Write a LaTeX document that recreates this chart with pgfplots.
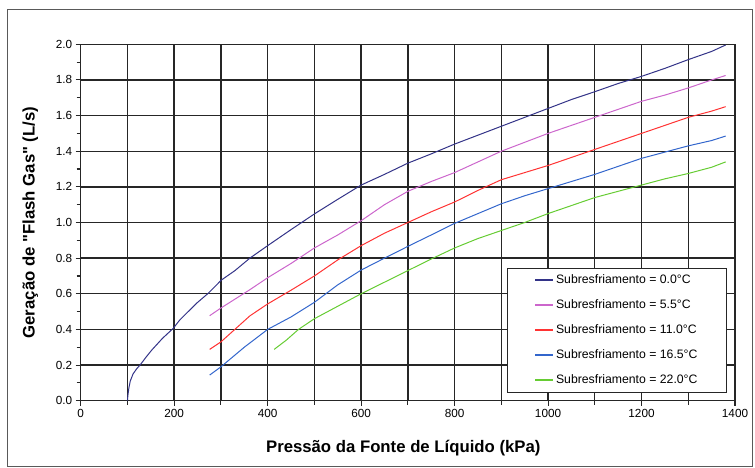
\documentclass[border=0pt]{standalone}
\usepackage{pgfplots}
\pgfplotsset{compat=1.18}
\usepackage{fontspec}
\setmainfont{Liberation Sans}[Ligatures=TeXOff]
\definecolor{c0}{RGB}{51,51,136}
\definecolor{c1}{RGB}{204,102,204}
\definecolor{c2}{RGB}{255,51,51}
\definecolor{c3}{RGB}{51,102,204}
\definecolor{c4}{RGB}{102,204,51}
\begin{document}
\begin{tikzpicture}
\path[use as bounding box] (0bp,0bp) rectangle (755bp,468bp);
\draw[black!65,line width=1.3bp] (7.3bp,1.6bp) rectangle (752.6bp,458.7bp);
\begin{axis}[
  at={(80.7bp,67.3bp)}, anchor=south west,
  scale only axis, width=654.3bp, height=356.4bp,
  xmin=0, xmax=1400, ymin=0, ymax=2,
  xtick={0,200,400,600,800,1000,1200,1400},
  minor xtick={100,300,500,700,900,1100,1300},
  ytick={0,0.2,0.4,0.6,0.8,1.0,1.2,1.4,1.6,1.8,2.0},
  minor ytick={0.1,0.3,0.5,0.7,0.9,1.1,1.3,1.5,1.7,1.9},
  xmajorgrids, xminorgrids, ymajorgrids,
  grid style={black!85,line width=1.4bp},
  minor grid style={black!85,line width=1.4bp},
  axis line style={black!85,line width=1.4bp},
  tick align=outside, tick pos=left,
  major tick length=5bp, minor tick length=4bp,
  every tick/.style={black!85,line width=1.1bp},
  tick label style={font=\fontsize{11.8}{13}\selectfont},
  /pgf/number format/assume math mode=true,
  /pgf/number format/1000 sep={},
  y tick label style={/pgf/number format/fixed,/pgf/number format/fixed zerofill,/pgf/number format/precision=1},
  xlabel={Pressão da Fonte de Líquido (kPa)},
  ylabel={Geração de "Flash Gas" (L/s)},
  xlabel style={font=\bfseries\fontsize{16.8}{20}\selectfont, at={(axis description cs:0.493,-0.1333)}, anchor=center},
  ylabel style={font=\bfseries\fontsize{16.8}{20}\selectfont, at={(axis description cs:-0.077,0.5)}, anchor=center},
  legend style={at={(axis description cs:0.9878,0.0224)}, anchor=south east, draw=black!85, line width=1bp, fill=white,
    font=\fontsize{12.3}{14}\selectfont, inner xsep=27bp, inner ysep=6bp, row sep=13bp,
    nodes={inner xsep=2bp, inner ysep=0bp, text height=9bp, text depth=3bp, anchor=west}},
  legend cell align=left,
  legend image code/.code={\draw[#1,line width=1.5bp] (0bp,0bp) -- (18bp,0bp);},
]
\addplot[c0, line width=1bp] coordinates {
(100,0) (101,0.03) (103,0.07) (106,0.11) (112,0.15) (120,0.18) (127,0.2) (140,0.245) (152,0.284) (175,0.35) (198,0.406) (212,0.453) (248,0.547) (273,0.603) (301,0.677) (330,0.73) (362,0.80) (400,0.87) (450,0.96) (500,1.048) (550,1.13) (600,1.21) (650,1.27) (700,1.333) (750,1.385) (800,1.44) (850,1.49) (900,1.54) (950,1.59) (1000,1.64) (1050,1.69) (1100,1.734) (1150,1.78) (1200,1.82) (1250,1.865) (1300,1.914) (1350,1.96) (1380,1.996)};
\addlegendentry{Subresfriamento = 0.0°C}
\addplot[c1, line width=1bp] coordinates {
(276,0.477) (300,0.52) (362,0.623) (400,0.69) (450,0.77) (500,0.857) (550,0.93) (600,1.01) (650,1.10) (700,1.175) (750,1.23) (800,1.28) (850,1.34) (900,1.40) (950,1.45) (1000,1.5) (1050,1.545) (1100,1.59) (1150,1.635) (1200,1.68) (1250,1.715) (1300,1.755) (1350,1.80) (1380,1.825)};
\addlegendentry{Subresfriamento = 5.5°C}
\addplot[c2, line width=1bp] coordinates {
(276,0.288) (300,0.33) (362,0.476) (400,0.543) (450,0.62) (500,0.70) (550,0.79) (600,0.87) (650,0.94) (700,1.0) (750,1.06) (800,1.115) (850,1.18) (900,1.24) (950,1.28) (1000,1.32) (1050,1.365) (1100,1.41) (1150,1.455) (1200,1.5) (1250,1.545) (1300,1.59) (1350,1.625) (1380,1.65)};
\addlegendentry{Subresfriamento = 11.0°C}
\addplot[c3, line width=1bp] coordinates {
(276,0.144) (300,0.19) (350,0.30) (400,0.40) (450,0.47) (500,0.552) (550,0.65) (600,0.733) (650,0.80) (700,0.866) (750,0.93) (800,0.995) (850,1.05) (900,1.105) (950,1.15) (1000,1.19) (1050,1.23) (1100,1.27) (1150,1.315) (1200,1.36) (1250,1.395) (1300,1.43) (1350,1.46) (1380,1.485)};
\addlegendentry{Subresfriamento = 16.5°C}
\addplot[c4, line width=1bp] coordinates {
(414,0.288) (440,0.34) (466,0.40) (500,0.46) (550,0.53) (600,0.60) (650,0.665) (700,0.73) (750,0.795) (800,0.857) (850,0.91) (900,0.955) (950,1.0) (1000,1.05) (1050,1.095) (1100,1.14) (1150,1.175) (1200,1.21) (1250,1.245) (1300,1.275) (1350,1.31) (1380,1.34)};
\addlegendentry{Subresfriamento = 22.0°C}
\end{axis}
\end{tikzpicture}
\end{document}
